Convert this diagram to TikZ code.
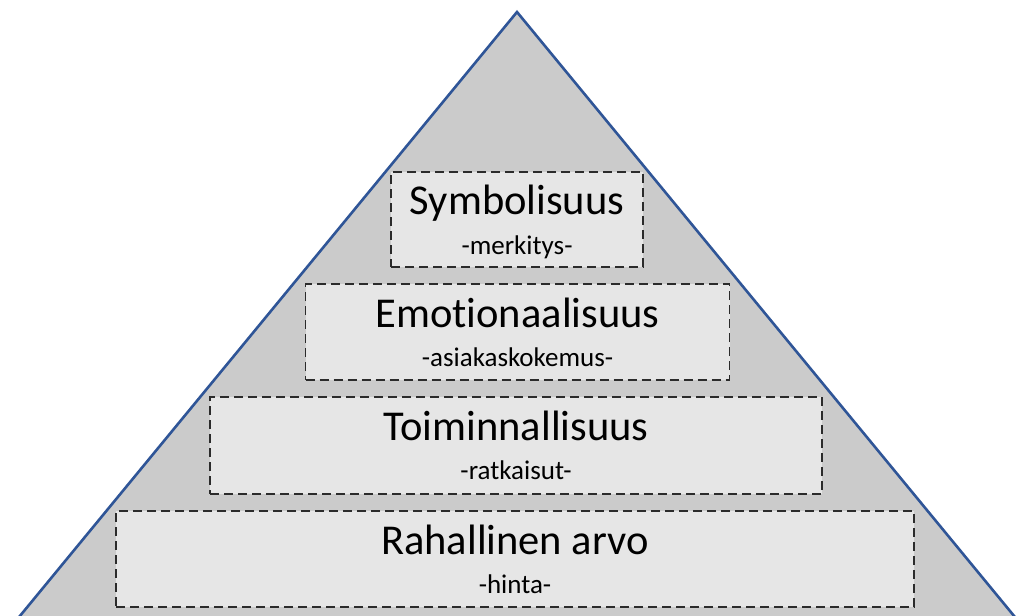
\documentclass[tikz,border=0pt]{standalone}
\usepackage{fontspec}
\setmainfont{Carlito}[Ligatures={NoCommon}]
\definecolor{tri}{HTML}{CBCBCB}
\definecolor{boxfill}{HTML}{E6E6E6}
\definecolor{edge}{HTML}{2F5597}
\definecolor{dashc}{HTML}{2B2B2B}
\begin{document}
\begin{tikzpicture}[x=1pt,y=-1pt,
  level/.style={draw=dashc, fill=boxfill, line width=1.8pt, dash pattern=on 9pt off 5pt, rectangle, inner sep=0pt},
  ttl/.style={anchor=base, font=\fontsize{42.5}{50}\selectfont, text=black, inner sep=0pt},
  sub/.style={anchor=base, font=\fontsize{27}{32}\selectfont, text=black, inner sep=0pt}]
\useasboundingbox (0,0) rectangle (1018,616);
\clip (0,0) rectangle (1018,616);
\coordinate (apex) at (517,12);
\coordinate (bl) at (517-0.823*700,712);
\coordinate (br) at (517+0.823*700,712);
\draw[fill=tri, draw=edge, line width=2.6pt, line join=miter] (apex) -- (bl) -- (br) -- cycle;

\node[level, minimum width=252pt, minimum height=95pt] (b1) at (517,219.5) {};
\node[level, minimum width=424pt, minimum height=96pt] (b2) at (517.5,332) {};
\node[level, minimum width=612pt, minimum height=97pt] (b3) at (516,445.5) {};
\node[level, minimum width=798pt, minimum height=96pt] (b4) at (515,559) {};

\node[ttl] (t1) at ([yshift=-43pt]b1.north) {Symbolisuus};
\node[sub] (s1) at ([yshift=-83pt]b1.north) {-merkitys-};
\node[ttl] (t2) at ([yshift=-44pt]b2.north) {Emotionaalisuus};
\node[sub] (s2) at ([yshift=-83pt]b2.north) {-asiakaskokemus-};
\node[ttl] (t3) at ([yshift=-44pt]b3.north) {Toiminnallisuus};
\node[sub] (s3) at ([yshift=-83pt]b3.north) {-ratkaisut-};
\node[ttl] (t4) at ([yshift=-44pt]b4.north) {Rahallinen arvo};
\node[sub] (s4) at ([yshift=-83pt]b4.north) {-hinta-};
\end{tikzpicture}
\end{document}
